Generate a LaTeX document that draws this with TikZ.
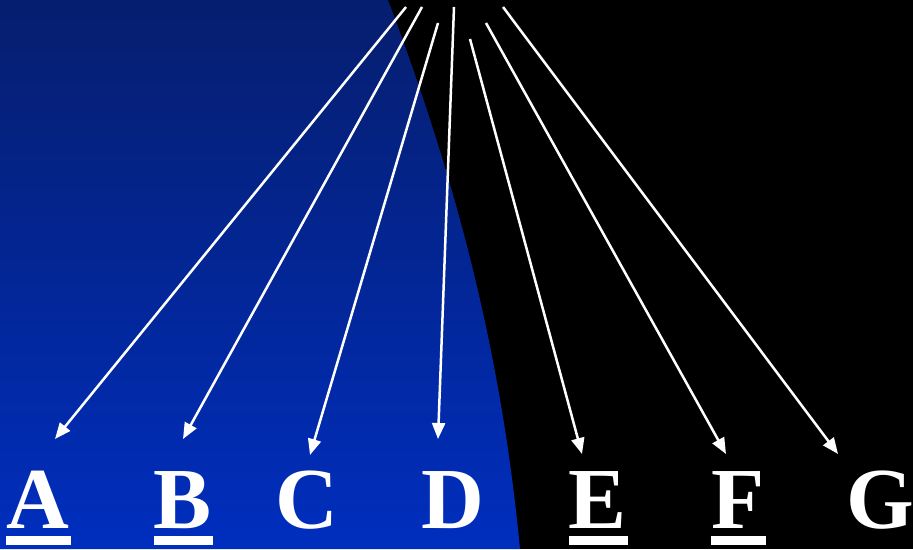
\documentclass[tikz,border=0pt]{standalone}
\usepackage{fontspec}
\setmainfont{Liberation Serif}
\definecolor{azularriba}{HTML}{061E6E}
\definecolor{azulabajo}{HTML}{002EBE}
\usetikzlibrary{arrows.meta}

\begin{document}
\begin{tikzpicture}[x=1pt, y=-1pt,
  letra/.style={text=white, font=\fontsize{87}{87}\selectfont\bfseries,
                inner sep=0pt, anchor=base},
  flecha/.style={white, line width=2.5pt, -{Triangle[length=16pt, width=13pt]}}]
\fill[black] (0,0) rectangle (913,549);
\useasboundingbox (0,0) rectangle (913,549);
\shade[top color=azularriba, bottom color=azulabajo]
  (0,0) -- (388,0) .. controls (452,170) and (500,340) .. (520,549) -- (0,549) -- cycle;

% letras
\node[letra] (A) at (38,528) {A};
\node[letra] (B) at (183,528) {B};
\node[letra] (C) at (307,528) {C};
\node[letra] (D) at (453,528) {D};
\node[letra] (E) at (598,528) {E};
\node[letra] (F) at (738,528) {F};
\node[letra] (G) at (880,528) {G};
\foreach \n in {A,B,E,F}
  \fill[white] ([xshift=0pt, yshift=-8pt]\n.base west) rectangle ([xshift=1pt, yshift=-17pt]\n.base east);

% flechas
\coordinate (sA) at (406,7);  \coordinate (tA) at (55,439);
\coordinate (sB) at (422,7);  \coordinate (tB) at (183,439);
\coordinate (sC) at (438,23); \coordinate (tC) at (310,455);
\coordinate (sD) at (454,7);  \coordinate (tD) at (438,439);
\coordinate (sE) at (470,39); \coordinate (tE) at (582,454);
\coordinate (sF) at (486,23); \coordinate (tF) at (726,454);
\coordinate (sG) at (503,7);  \coordinate (tG) at (838,454);
\foreach \n in {A,B,C,D,E,F,G}
  \draw[flecha] (s\n) -- (t\n);
\end{tikzpicture}
\end{document}
